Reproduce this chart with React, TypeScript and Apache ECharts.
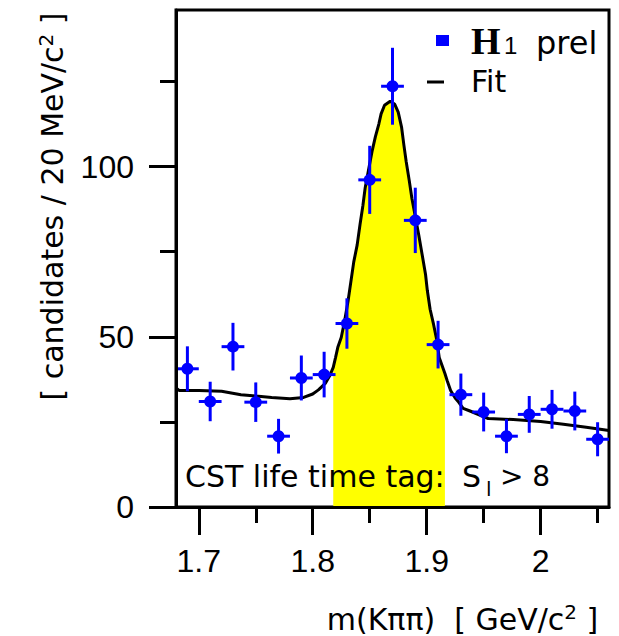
import React, { useEffect, useRef } from "react";
import * as echarts from "echarts";

// ---- data ----
const massBins = [1.69, 1.71, 1.73, 1.75, 1.77, 1.79, 1.81, 1.83, 1.85, 1.87, 1.89, 1.91, 1.93, 1.95, 1.97, 1.99, 2.01, 2.03, 2.05];
const candidates = [40.6, 31.0, 47.1, 30.8, 20.8, 37.9, 38.9, 53.9, 96.1, 123.6, 84.2, 47.7, 33.0, 27.9, 20.8, 27.2, 28.7, 28.2, 19.9];
const candidateErrors = [6.6, 5.8, 7.0, 5.8, 5.1, 6.6, 6.7, 7.4, 10.0, 11.3, 9.6, 7.0, 6.2, 5.7, 5.0, 5.4, 5.7, 5.7, 5.0];
const binHalfWidth = 0.01;

const fitMass = [
  1.68, 1.683, 1.7, 1.72, 1.737, 1.75, 1.764, 1.78, 1.792, 1.8, 1.805, 1.811, 1.815, 1.818, 1.82, 1.822, 1.825,
  1.828, 1.831, 1.836, 1.839, 1.8415, 1.844, 1.846, 1.852, 1.855, 1.858, 1.86, 1.863, 1.868, 1.872, 1.875, 1.878,
  1.88, 1.882, 1.8846, 1.887, 1.893, 1.896, 1.899, 1.9006, 1.903, 1.906, 1.909, 1.911, 1.916, 1.918, 1.921, 1.925,
  1.928, 1.932, 1.938, 1.954, 1.976, 2.0, 2.02, 2.04, 2.06,
];
const fitValues = [
  35.0, 34.2, 34.2, 34.0, 33.0, 32.6, 32.2, 31.8, 32.2, 33.2, 34.4, 36.3, 38.6, 41.0, 43.9, 46.9, 49.8,
  54.7, 60.5, 72.0, 77.0, 83.0, 88.5, 93.7, 104.4, 108.8, 112.5, 115.5, 118.0, 119.2, 118.3, 116.0, 111.5,
  106.3, 101.5, 96.1, 90.7, 80.0, 74.2, 68.3, 63.5, 58.1, 53.7, 48.8, 43.9, 39.2, 37.1, 34.2, 32.0,
  30.8, 29.0, 28.2, 26.0, 25.7, 25.1, 24.3, 23.4, 22.5,
];
const signalWindow = [1.818, 1.916];

const xMajorTicks = [1.7, 1.8, 1.9, 2.0];
const xMinorTicks = [1.75, 1.85, 1.95, 2.05];
const yMajorTicks = [0, 50, 100];
const yMinorTicks = [25, 75, 125];
const xRange = [1.68, 2.06];
const yRange = [0, 146];

const xTitle = "m(Kππ)  [ GeV/c{sup|2} ]";
const yTitle = "[ candidates / 20 MeV/c{sup|2} ]";
const legendData = "H1 prel";
const legendFit = "Fit";

const FONT = "'DejaVu Sans', sans-serif";
const TICK_FONT = "'Liberation Sans', Arial, sans-serif";
const BLUE = "#0000ff";

export default function App() {
  const ref = useRef<HTMLDivElement>(null);

  useEffect(() => {
    if (!ref.current) return;
    const chart = echarts.init(ref.current, undefined, { renderer: "svg" });

    const points = massBins.map((m, i) => [m, candidates[i], candidateErrors[i]]);
    const fit = fitMass.map((m, i) => [m, fitValues[i]]);
    const shaded = fit.filter((p) => p[0] >= signalWindow[0] && p[0] <= signalWindow[1]);

    const supStyle = { fontSize: 20, lineHeight: 20, verticalAlign: "top", fontFamily: FONT, color: "#000" };

    const tickLine = { color: "#000", width: 3 };

    chart.setOption({
      animation: false,
      backgroundColor: "#fff",
      grid: {
        left: 176,
        top: 10,
        right: 10,
        bottom: 129,
        containLabel: false,
        outerBoundsMode: "none",
        show: true,
        borderColor: "#000",
        borderWidth: 3,
        backgroundColor: "transparent",
      },
      xAxis: [
        {
          type: "value",
          min: xRange[0],
          max: xRange[1],
          position: "bottom",
          z: 10,
          splitLine: { show: false },
          axisLine: { show: true, onZero: false, lineStyle: tickLine },
          axisTick: { show: true, inside: false, length: 28, lineStyle: tickLine, customValues: xMajorTicks },
          axisLabel: {
            customValues: xMajorTicks,
            margin: 38,
            color: "#000",
            fontSize: 32,
            fontFamily: TICK_FONT,
            formatter: (v: number) => String(Math.round(v * 100) / 100),
          },
          name: xTitle,
          nameLocation: "middle",
          nameGap: 95,
          nameTextStyle: {
            fontFamily: FONT,
            fontSize: 30,
            lineHeight: 34,
            color: "#000",
            padding: [0, 0, 0, 140],
            rich: { sup: supStyle },
          },
        },
        {
          type: "value",
          min: xRange[0],
          max: xRange[1],
          position: "bottom",
          z: 10,
          splitLine: { show: false },
          axisLine: { show: false, onZero: false },
          axisTick: { show: true, inside: false, length: 16, lineStyle: tickLine, customValues: xMinorTicks },
          axisLabel: { show: false },
        },
      ],
      yAxis: [
        {
          type: "value",
          min: yRange[0],
          max: yRange[1],
          position: "left",
          z: 10,
          splitLine: { show: false },
          axisLine: { show: true, onZero: false, lineStyle: tickLine },
          axisTick: { show: true, inside: false, length: 27, lineStyle: tickLine, customValues: yMajorTicks },
          axisLabel: {
            customValues: yMajorTicks,
            margin: 42,
            color: "#000",
            fontSize: 32,
            fontFamily: TICK_FONT,
          },
          name: yTitle,
          nameLocation: "middle",
          nameRotate: 90,
          nameGap: 106,
          nameTextStyle: {
            fontFamily: FONT,
            fontSize: 30,
            lineHeight: 34,
            color: "#000",
            padding: [0, 0, 0, 104],
            rich: { sup: supStyle },
          },
        },
        {
          type: "value",
          min: yRange[0],
          max: yRange[1],
          position: "left",
          z: 10,
          splitLine: { show: false },
          axisLine: { show: false, onZero: false },
          axisTick: { show: true, inside: false, length: 16, lineStyle: tickLine, customValues: yMinorTicks },
          axisLabel: { show: false },
        },
      ],
      series: [
        {
          name: "signal window",
          type: "line",
          xAxisIndex: 0,
          yAxisIndex: 0,
          data: shaded,
          showSymbol: false,
          lineStyle: { width: 0 },
          areaStyle: { color: "#ffff00", opacity: 1 },
          z: 1,
        },
        {
          name: legendFit,
          type: "line",
          xAxisIndex: 0,
          yAxisIndex: 0,
          data: fit,
          showSymbol: false,
          lineStyle: { color: "#000", width: 3 },
          z: 3,
        },
        {
          name: legendData,
          type: "custom",
          xAxisIndex: 0,
          yAxisIndex: 0,
          data: points,
          encode: { x: 0, y: 1 },
          z: 4,
          renderItem: (params: any, api: any) => {
            const x = api.value(0);
            const y = api.value(1);
            const e = api.value(2);
            const c = api.coord([x, y]);
            const top = api.coord([x, y + e]);
            const bot = api.coord([x, y - e]);
            const left = api.coord([x - binHalfWidth, y]);
            const right = api.coord([x + binHalfWidth, y]);
            return {
              type: "group",
              children: [
                { type: "line", shape: { x1: c[0], y1: top[1], x2: c[0], y2: bot[1] }, style: { stroke: BLUE, lineWidth: 3 } },
                { type: "line", shape: { x1: left[0], y1: c[1], x2: right[0], y2: c[1] }, style: { stroke: BLUE, lineWidth: 3 } },
                { type: "circle", shape: { cx: c[0], cy: c[1], r: 6 }, style: { fill: BLUE } },
              ],
            };
          },
        },
      ],
      graphic: [
        { type: "rect", z: 100, shape: { x: 436, y: 35, width: 13, height: 11 }, style: { fill: BLUE } },
        {
          type: "text",
          z: 100,
          x: 471,
          y: 41,
          style: { text: "H", font: "bold 38px 'Liberation Serif', serif", fill: "#000", verticalAlign: "middle" },
        },
        {
          type: "text",
          z: 100,
          x: 504,
          y: 45,
          style: { text: "1", font: "24px 'Liberation Sans', sans-serif", fill: "#000", verticalAlign: "middle" },
        },
        {
          type: "text",
          z: 100,
          x: 536,
          y: 43,
          style: { text: "prel", font: "32px 'DejaVu Sans', sans-serif", fill: "#000", verticalAlign: "middle" },
        },
        { type: "line", z: 100, shape: { x1: 427, y1: 82, x2: 444, y2: 82 }, style: { stroke: "#000", lineWidth: 3 } },
        {
          type: "text",
          z: 100,
          x: 471,
          y: 81,
          style: { text: legendFit, font: "30px 'DejaVu Sans', sans-serif", fill: "#000", verticalAlign: "middle" },
        },
        {
          type: "text",
          z: 100,
          x: 185,
          y: 476,
          style: { text: "CST life time tag:", font: "30px 'DejaVu Sans', sans-serif", fill: "#000", verticalAlign: "middle" },
        },
        {
          type: "text",
          z: 100,
          x: 462,
          y: 476,
          style: { text: "S", font: "30px 'DejaVu Sans', sans-serif", fill: "#000", verticalAlign: "middle" },
        },
        {
          type: "text",
          z: 100,
          x: 486,
          y: 489,
          style: { text: "l", font: "20px 'DejaVu Sans', sans-serif", fill: "#000", verticalAlign: "middle" },
        },
        {
          type: "text",
          z: 100,
          x: 500,
          y: 476,
          style: { text: "> 8", font: "28px 'DejaVu Sans', sans-serif", fill: "#000", verticalAlign: "middle" },
        },
      ],
    });

    return () => chart.dispose();
  }, []);

  return <div ref={ref} style={{ position: "fixed", left: 0, top: 0, width: 619, height: 636, background: "#fff" }} />;
}
